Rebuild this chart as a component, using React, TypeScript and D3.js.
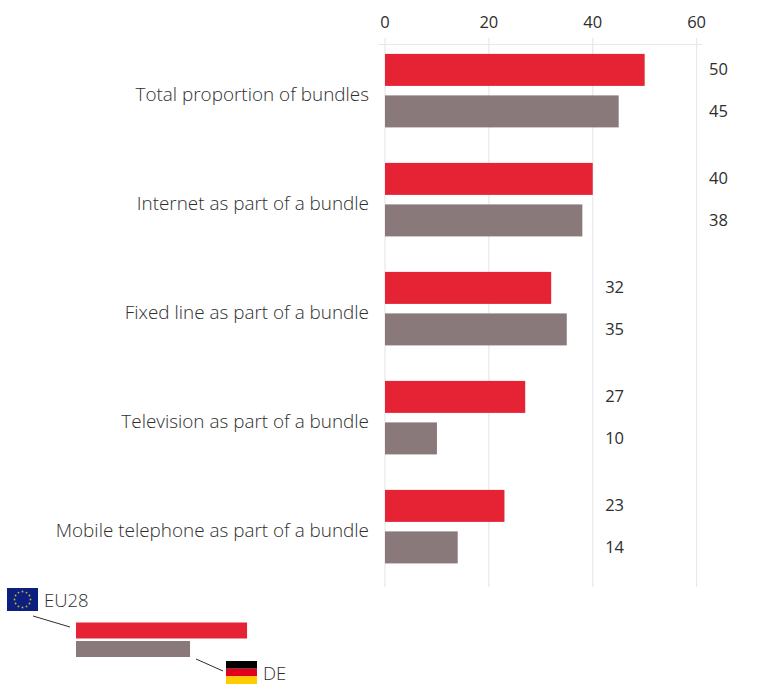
import React from "react";
import * as d3 from "d3";

const categories = [
  "Total proportion of bundles",
  "Internet as part of a bundle",
  "Fixed line as part of a bundle",
  "Television as part of a bundle",
  "Mobile telephone as part of a bundle",
];
const eu28Values = [50, 40, 32, 27, 23];
const deValues = [45, 38, 35, 10, 14];
const axisTicks = [0, 20, 40, 60];
const legendEu28Sample = 33;
const legendDeSample = 22;

const WIDTH = 770;
const HEIGHT = 687;
const RED = "#e62235";
const TAUPE = "#8a797b";
const GRID = "#e8e8e8";
const INK = "#2e2e2e";
const FONT = "'Open Sans', sans-serif";

const x = d3.scaleLinear().domain([0, 60]).range([385, 696.6]);
const band = d3.scaleBand<string>().domain(categories).range([38.4, 583.4]);
const BAR_H = 32;

// Rows reaching 38 or more put their value labels in the far column.
const labelX = (rowMax: number) => x(rowMax >= 38 ? 62.4 : 42.4);

function EuFlag({ left, top }: { left: number; top: number }) {
  const angles = d3.range(12).map((i) => (i * Math.PI) / 6);
  return (
    <g transform={`translate(${left},${top})`}>
      <rect width={31} height={23} fill="#0d2080" />
      {angles.map((a, i) => (
        <circle
          key={i}
          cx={15.5 + Math.cos(a) * 8}
          cy={11.5 + Math.sin(a) * 8}
          r={0.9}
          fill="#c8b82a"
        />
      ))}
    </g>
  );
}

function DeFlag({ left, top }: { left: number; top: number }) {
  const stripes = ["#000000", "#e2001a", "#ffcc00"];
  return (
    <g transform={`translate(${left},${top})`}>
      {stripes.map((c, i) => (
        <rect key={c} y={(i * 23) / 3} width={31} height={23 / 3} fill={c} />
      ))}
    </g>
  );
}

export default function App() {
  const legendScale = d3.scaleLinear().domain([0, 60]).range([0, 311]);
  return (
    <svg
      width={WIDTH}
      height={HEIGHT}
      viewBox={`0 0 ${WIDTH} ${HEIGHT}`}
      style={{ position: "absolute", left: 0, top: 0, background: "#fff" }}
      fontFamily={FONT}
    >
      {axisTicks.map((t) => (
        <g key={t}>
          <line x1={x(t)} x2={x(t)} y1={38} y2={587} stroke={GRID} strokeWidth={1.2} />
          <text x={x(t)} y={28} textAnchor="middle" fontSize={16.5} fill={INK}>
            {t}
          </text>
        </g>
      ))}
      <line x1={378} x2={702} y1={44.5} y2={44.5} stroke={GRID} strokeWidth={1.2} />

      {categories.map((c, i) => {
        const top = band(c)! + 15.5;
        const rowMax = Math.max(eu28Values[i], deValues[i]);
        return (
          <g key={c}>
            <rect x={x(0)} y={top} width={x(eu28Values[i]) - x(0)} height={BAR_H} fill={RED} />
            <rect x={x(0)} y={top + 41.5} width={x(deValues[i]) - x(0)} height={BAR_H} fill={TAUPE} />
            <text x={369} y={top + 47} textAnchor="end" fontSize={18.9} fontWeight={300} fill={INK}>
              {c}
            </text>
            <text x={labelX(rowMax)} y={top + 21.5} fontSize={16.5} fill={INK}>
              {eu28Values[i]}
            </text>
            <text x={labelX(rowMax)} y={top + 63.5} fontSize={16.5} fill={INK}>
              {deValues[i]}
            </text>
          </g>
        );
      })}

      <EuFlag left={7} top={588} />
      <text x={44} y={607} fontSize={18.5} fontWeight={300} fill={INK}>
        EU28
      </text>
      <line x1={33} y1={616} x2={70} y2={627} stroke={INK} strokeWidth={1} />
      <rect x={76} y={622.5} width={legendScale(legendEu28Sample)} height={16} fill={RED} />
      <rect x={76} y={641} width={legendScale(legendDeSample)} height={16} fill={TAUPE} />
      <line x1={196} y1={659} x2={223} y2={671} stroke={INK} strokeWidth={1} />
      <DeFlag left={226} top={661} />
      <text x={263} y={680} fontSize={18.5} fontWeight={300} fill={INK}>
        DE
      </text>
    </svg>
  );
}
